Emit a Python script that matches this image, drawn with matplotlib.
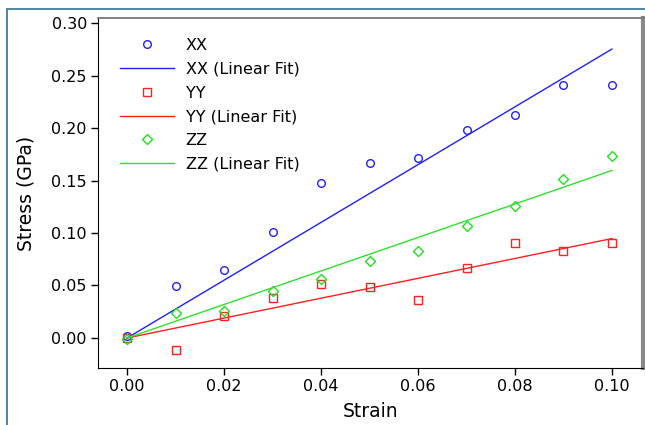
import numpy as np
import matplotlib
matplotlib.use("Agg")
import matplotlib.pyplot as plt
from matplotlib.patches import Rectangle

strain = [0.00, 0.01, 0.02, 0.03, 0.04, 0.05, 0.06, 0.07, 0.08, 0.09, 0.10]
stress_xx = [0.002, 0.0495, 0.065, 0.101, 0.148, 0.167, 0.171, 0.198, 0.212, 0.241, 0.241]
stress_yy = [0.000, -0.011, 0.021, 0.038, 0.051, 0.049, 0.036, 0.067, 0.090, 0.083, 0.090]
stress_zz = [-0.001, 0.024, 0.026, 0.045, 0.056, 0.073, 0.083, 0.107, 0.126, 0.151, 0.173]
xticks = [0.00, 0.02, 0.04, 0.06, 0.08, 0.10]
yticks = [0.00, 0.05, 0.10, 0.15, 0.20, 0.25, 0.30]

plt.rcParams['font.family'] = ['DejaVu Sans']

fig = plt.figure(figsize=(6.45, 4.25), dpi=100)
ax = fig.add_axes([98/645, 57/425, 545/645, 350/425])

# figure frame (top and left)
fig.patches.append(Rectangle((7/645, -0.1), 1.2, 1.1 - 9/425, transform=fig.transFigure,
                             fill=False, edgecolor='#2f6f96', linewidth=1.2))

x = np.array(strain)
xfit = np.array([0.0, 0.10])
series = [("XX", stress_xx, 'o', '#2020ff', '#2020ff'),
          ("YY", stress_yy, 's', '#ff2020', '#ff2020'),
          ("ZZ", stress_zz, 'D', '#20e020', '#30e030')]
for name, ys, mk, mc, lc in series:
    y = np.array(ys)
    slope = np.sum(x * y) / np.sum(x * x)
    ax.plot(x, y, linestyle='none', marker=mk, markersize=5.5 if mk != 'D' else 5,
            markerfacecolor='none', markeredgecolor=mc, markeredgewidth=1.0, label=name)
    ax.plot(xfit, slope * xfit, color=lc, linewidth=1.0, label=f"{name} (Linear Fit)")

ax.set_xlim(-0.006, 0.1064)
ax.set_ylim(-0.0286, 0.3048)
ax.set_xticks(xticks)
ax.set_yticks(yticks)
ax.set_xticklabels([f"{v:.2f}" for v in xticks])
ax.set_yticklabels([f"{v:.2f}" for v in yticks])
ax.tick_params(direction='out', length=5, width=1, labelsize=11.5, pad=3)
ax.tick_params(top=False, right=False)
ax.set_xlabel("Strain", fontsize=13.5, labelpad=6)
ax.set_ylabel("Stress (GPa)", fontsize=13.5, labelpad=11)

ax.spines['left'].set_color('black')
ax.spines['bottom'].set_color('black')
ax.spines['top'].set_color('#777777')
ax.spines['top'].set_linewidth(1.3)
ax.spines['right'].set_color('#888888')
ax.spines['right'].set_linewidth(3)

ax.legend(loc='upper left', frameon=False, fontsize=11.5, handlelength=3.4,
          handletextpad=0.7, labelspacing=0.55, borderaxespad=0.3,
          bbox_to_anchor=(0.02, 0.975))

fig.savefig("out.png", dpi=100)
